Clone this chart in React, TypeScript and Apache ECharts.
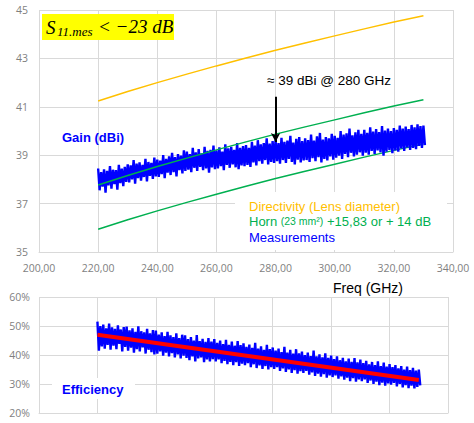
import React, { useEffect, useRef } from "react";
import * as echarts from "echarts";

// ---- Data ----
const xTicks = [200, 220, 240, 260, 280, 300, 320, 340];
const dirFreqs = [220, 230, 240, 250, 260, 270, 280, 290, 300, 310, 320, 330];
const directivity = [41.24, 41.63, 42.0, 42.35, 42.69, 43.02, 43.34, 43.64, 43.93, 44.22, 44.5, 44.76];
const hornHigh = [37.77, 38.16, 38.53, 38.88, 39.22, 39.55, 39.87, 40.17, 40.46, 40.75, 41.03, 41.29];
const hornLow = [35.94, 36.33, 36.7, 37.05, 37.39, 37.72, 38.04, 38.34, 38.63, 38.92, 39.2, 39.46];

// measurement envelope: one high/low pair per GHz, 220..330
const measFreqStart = 220;
const gainHi = [
  38.45, 38.3, 38.42, 38.35, 38.55, 38.4, 38.38, 38.6, 38.45, 38.52,
  38.62, 38.58, 38.8, 38.65, 38.7, 38.6, 38.85, 38.72, 38.68, 38.9,
  38.82, 38.78, 39.0, 38.85, 38.95, 39.1, 38.92, 39.05, 38.98, 39.2,
  39.15, 39.05, 39.3, 39.12, 39.25, 39.08, 39.35, 39.18, 39.22, 39.4,
  39.2, 39.32, 39.15, 39.45, 39.28, 39.35, 39.22, 39.5, 39.3, 39.38,
  39.42, 39.3, 39.55, 39.4, 39.62, 39.45, 39.5, 39.7, 39.48, 39.58,
  39.65, 39.5, 39.72, 39.55, 39.6, 39.8, 39.52, 39.68, 39.75, 39.58,
  39.7, 39.62, 39.85, 39.6, 39.78, 39.92, 39.65, 39.75, 39.7, 39.88,
  39.8, 39.72, 40.0, 39.85, 39.9, 40.1, 39.82, 39.95, 40.05, 39.88,
  40.05, 39.92, 40.15, 39.98, 40.08, 39.95, 40.2, 40.02, 40.1, 40.0,
  40.12, 40.05, 40.22, 40.1, 40.18, 40.08, 40.25, 40.15, 40.28, 40.2, 40.22,
];
const gainLo = [
  37.55, 37.7, 37.45, 37.75, 37.62, 37.8, 37.58, 37.85, 37.72, 37.9,
  37.88, 38.0, 37.82, 38.05, 37.95, 38.1, 37.92, 38.15, 38.02, 38.12,
  38.1, 38.22, 38.05, 38.28, 38.18, 38.3, 38.12, 38.38, 38.25, 38.35,
  38.4, 38.3, 38.48, 38.35, 38.52, 38.38, 38.45, 38.28, 38.5, 38.42,
  38.45, 38.55, 38.38, 38.6, 38.48, 38.62, 38.5, 38.42, 38.58, 38.55,
  38.6, 38.52, 38.7, 38.58, 38.75, 38.65, 38.8, 38.62, 38.72, 38.68,
  38.75, 38.65, 38.8, 38.68, 38.85, 38.72, 38.62, 38.82, 38.7, 38.78,
  38.8, 38.72, 38.88, 38.75, 38.92, 38.7, 38.85, 38.78, 38.95, 38.82,
  38.9, 38.98, 38.85, 39.05, 38.92, 39.1, 38.95, 39.02, 39.12, 38.98,
  39.1, 39.02, 39.18, 39.05, 39.2, 39.12, 38.98, 39.15, 39.22, 39.08,
  39.2, 39.15, 39.28, 39.18, 39.32, 39.22, 39.3, 39.25, 39.38, 39.3, 39.42,
];
const effHi = [
  51.5, 50.0, 50.5, 49.2, 50.8, 49.5, 49.0, 50.2, 48.8, 49.6,
  49.8, 48.5, 49.2, 48.0, 49.9, 48.2, 47.8, 49.0, 47.5, 48.6,
  48.4, 47.0, 47.8, 46.5, 48.0, 46.8, 46.2, 47.5, 45.8, 47.0,
  46.8, 45.5, 46.2, 45.0, 46.9, 44.8, 45.6, 44.5, 45.8, 44.6,
  45.5, 44.2, 45.0, 43.8, 45.2, 43.5, 44.6, 43.2, 44.8, 43.4,
  44.0, 42.8, 43.6, 42.5, 44.2, 42.2, 43.0, 41.8, 43.5, 42.0,
  42.6, 41.5, 42.2, 41.0, 42.8, 40.8, 41.8, 40.5, 42.0, 40.6,
  41.2, 40.0, 40.8, 39.6, 41.5, 39.5, 40.2, 39.2, 40.6, 39.0,
  39.8, 38.6, 39.5, 38.2, 39.0, 37.8, 38.8, 37.6, 38.9, 37.5,
  38.4, 37.2, 38.0, 36.8, 37.6, 36.5, 37.8, 36.2, 37.4, 36.0,
  36.9, 35.8, 36.5, 35.4, 36.2, 35.0, 36.0, 34.8, 35.6, 34.6, 35.0,
];
const effLo = [
  41.5, 43.0, 42.2, 43.5, 41.8, 43.2, 42.0, 43.8, 41.2, 42.8,
  41.5, 42.5, 40.8, 42.0, 41.2, 42.6, 40.5, 41.8, 41.0, 40.2,
  40.5, 41.2, 39.8, 40.8, 39.5, 40.6, 39.2, 40.2, 38.8, 39.8,
  39.0, 38.2, 39.5, 37.8, 38.8, 39.2, 37.5, 38.5, 37.8, 38.6,
  37.8, 38.5, 37.2, 38.0, 36.8, 37.6, 36.5, 37.5, 36.2, 37.0,
  36.5, 37.2, 35.8, 36.8, 35.5, 36.4, 35.2, 36.2, 35.0, 35.8,
  35.2, 35.8, 34.5, 35.4, 34.2, 35.0, 33.8, 34.8, 33.6, 34.4,
  33.8, 34.5, 33.2, 34.0, 32.8, 33.6, 32.5, 33.4, 32.2, 33.0,
  32.4, 33.0, 31.8, 32.6, 31.5, 32.2, 31.0, 32.0, 30.8, 31.6,
  31.0, 31.6, 30.4, 31.2, 30.0, 30.8, 29.6, 30.5, 29.4, 30.2,
  29.8, 30.4, 29.2, 30.0, 28.8, 29.6, 28.6, 29.4, 28.5, 29.0, 29.5,
];
const effFitFreqs = [220, 330];
const effFit = [47.0, 31.4];
const gainTicks = [35, 37, 39, 41, 43, 45];
const effTicks = [20, 30, 40, 50, 60];

function zigzag(hi: number[], lo: number[]) {
  const out: number[][] = [];
  for (let i = 0; i < hi.length; i++) {
    const f = measFreqStart + i;
    out.push([f, hi[i]]);
    out.push([f + 0.5, lo[i]]);
  }
  return out;
}
const pairs = (xs: number[], ys: number[]) => xs.map((x, i) => [x, ys[i]]);

const GRID = "#d9d9d9";
const LABEL = "#7f7f7f";
const FONT = "'Open Sans', 'Liberation Sans', sans-serif";
const SANS = "'Liberation Sans', Arial, sans-serif";

export default function App() {
  const ref = useRef<HTMLDivElement>(null);
  useEffect(() => {
    if (!ref.current) return;
    const chart = echarts.init(ref.current, null, { renderer: "svg" });
    const line = (name: string, data: number[][], color: string, width: number, xi: number, extra: any = {}) => ({
      type: "line",
      name,
      data,
      xAxisIndex: xi,
      yAxisIndex: xi,
      showSymbol: false,
      symbol: "none",
      silent: true,
      lineStyle: { color, width },
      ...extra,
    });
    chart.setOption({
      animation: false,
      backgroundColor: "#ffffff",
      grid: [
        { left: 39, right: 21, top: 10, height: 242 },
        { left: 39, width: 409, top: 297, height: 116 },
      ],
      xAxis: [
        {
          type: "value",
          gridIndex: 0,
          min: xTicks[0],
          max: xTicks[xTicks.length - 1],
          interval: 20,
          axisLine: { show: true, lineStyle: { color: GRID } },
          axisTick: { show: false },
          splitLine: { show: true, lineStyle: { color: GRID } },
          axisLabel: {
            color: LABEL,
            fontFamily: FONT,
            fontSize: 10.5,
            margin: 10,
            formatter: (v: number) => v.toFixed(2).replace(".", ","),
          },
        },
        {
          type: "value",
          gridIndex: 1,
          min: xTicks[0],
          max: xTicks[xTicks.length - 1],
          interval: 20,
          axisLine: { show: true, lineStyle: { color: GRID } },
          axisTick: { show: false },
          splitLine: { show: true, lineStyle: { color: GRID } },
          axisLabel: { show: false },
        },
      ],
      yAxis: [
        {
          type: "value",
          gridIndex: 0,
          min: gainTicks[0],
          max: gainTicks[gainTicks.length - 1],
          interval: 2,
          axisLine: { show: false },
          axisTick: { show: false },
          splitLine: { show: true, lineStyle: { color: GRID } },
          axisLabel: { color: LABEL, fontFamily: FONT, fontSize: 10.5, margin: 11 },
        },
        {
          type: "value",
          gridIndex: 1,
          min: effTicks[0],
          max: effTicks[effTicks.length - 1],
          interval: 10,
          axisLine: { show: false },
          axisTick: { show: false },
          splitLine: { show: true, lineStyle: { color: GRID } },
          axisLabel: { color: LABEL, fontFamily: FONT, fontSize: 10.5, margin: 9, formatter: "{value}%" },
        },
      ],
      series: [
        line("Directivity (Lens diameter)", pairs(dirFreqs, directivity), "#FFC000", 1.5, 0),
        line("Horn +15,83", pairs(dirFreqs, hornHigh), "#00B050", 1.5, 0, { z: 4 }),
        line("Horn +14", pairs(dirFreqs, hornLow), "#00B050", 1.5, 0),
        line("Measurements", zigzag(gainHi, gainLo), "#0000FF", 2.4, 0, {
          z: 3,
          markLine: {
            silent: true,
            symbol: ["none", "arrow"],
            symbolSize: [7, 9],
            label: { show: false },
            lineStyle: { color: "#000000", width: 2, type: "solid" },
            data: [[{ coord: [280, 41.42] }, { coord: [280, 39.55] }]],
          },
        }),
        line("Efficiency", zigzag(effHi, effLo), "#0000FF", 2.4, 1),
        line("Efficiency fit", pairs(effFitFreqs, effFit), "#FF0000", 4, 1, { z: 5 }),
      ],
      graphic: [
        { type: "rect", z: 10, shape: { x: 42, y: 14, width: 132, height: 26 }, style: { fill: "#FFFF00" } },
        {
          type: "text", z: 11, x: 46, y: 27,
          style: { text: "S", fill: "#000", fontFamily: "'Liberation Serif', serif", fontStyle: "italic", fontSize: 19, verticalAlign: "middle" },
        },
        {
          type: "text", z: 11, x: 57, y: 31,
          style: { text: "11.mes", fill: "#000", fontFamily: "'Liberation Serif', serif", fontStyle: "italic", fontSize: 13, verticalAlign: "middle" },
        },
        {
          type: "text", z: 11, x: 98, y: 26,
          style: { text: "< \u221223 dB", fill: "#000", fontFamily: "'Liberation Serif', serif", fontStyle: "italic", fontSize: 19, verticalAlign: "middle" },
        },
        {
          type: "text", z: 11, x: 62, y: 137,
          style: { text: "Gain (dBi)", fill: "#0000FF", fontFamily: SANS, fontWeight: "bold", fontSize: 13, verticalAlign: "middle" },
        },
        {
          type: "text", z: 11, x: 267, y: 80,
          style: { text: "\u2248 39 dBi @ 280 GHz", fill: "#000", fontFamily: SANS, fontSize: 13.5, verticalAlign: "middle" },
        },
        { type: "rect", z: 1, shape: { x: 235, y: 192, width: 212, height: 58 }, style: { fill: "#ffffff" } },
        {
          type: "text", z: 11, x: 249, y: 206,
          style: { text: "Directivity (Lens diameter)", fill: "#FFC000", fontFamily: SANS, fontSize: 13, verticalAlign: "middle" },
        },
        {
          type: "text", z: 11, x: 249, y: 221,
          style: {
            text: "{a|Horn }{b|(23 mm\u00b2)}{a| +15,83 or + 14 dB}",
            verticalAlign: "middle",
            rich: {
              a: { fill: "#00B050", fontFamily: SANS, fontSize: 13 },
              b: { fill: "#00B050", fontFamily: SANS, fontSize: 10.5 },
            },
          },
        },
        {
          type: "text", z: 11, x: 249, y: 237,
          style: { text: "Measurements", fill: "#0000FF", fontFamily: SANS, fontSize: 13, verticalAlign: "middle" },
        },
        {
          type: "text", z: 11, x: 333, y: 288,
          style: { text: "Freq (GHz)", fill: "#000", fontFamily: SANS, fontSize: 14, verticalAlign: "middle" },
        },
        { type: "rect", z: 1, shape: { x: 52, y: 378, width: 83, height: 21 }, style: { fill: "#ffffff" } },
        {
          type: "text", z: 11, x: 62, y: 389,
          style: { text: "Efficiency", fill: "#0000FF", fontFamily: SANS, fontWeight: "bold", fontSize: 13, verticalAlign: "middle" },
        },
      ],
    });
    return () => chart.dispose();
  }, []);
  return (
    <div
      ref={ref}
      style={{ position: "fixed", left: 0, top: 0, width: 474, height: 423, background: "#fff" }}
    />
  );
}
